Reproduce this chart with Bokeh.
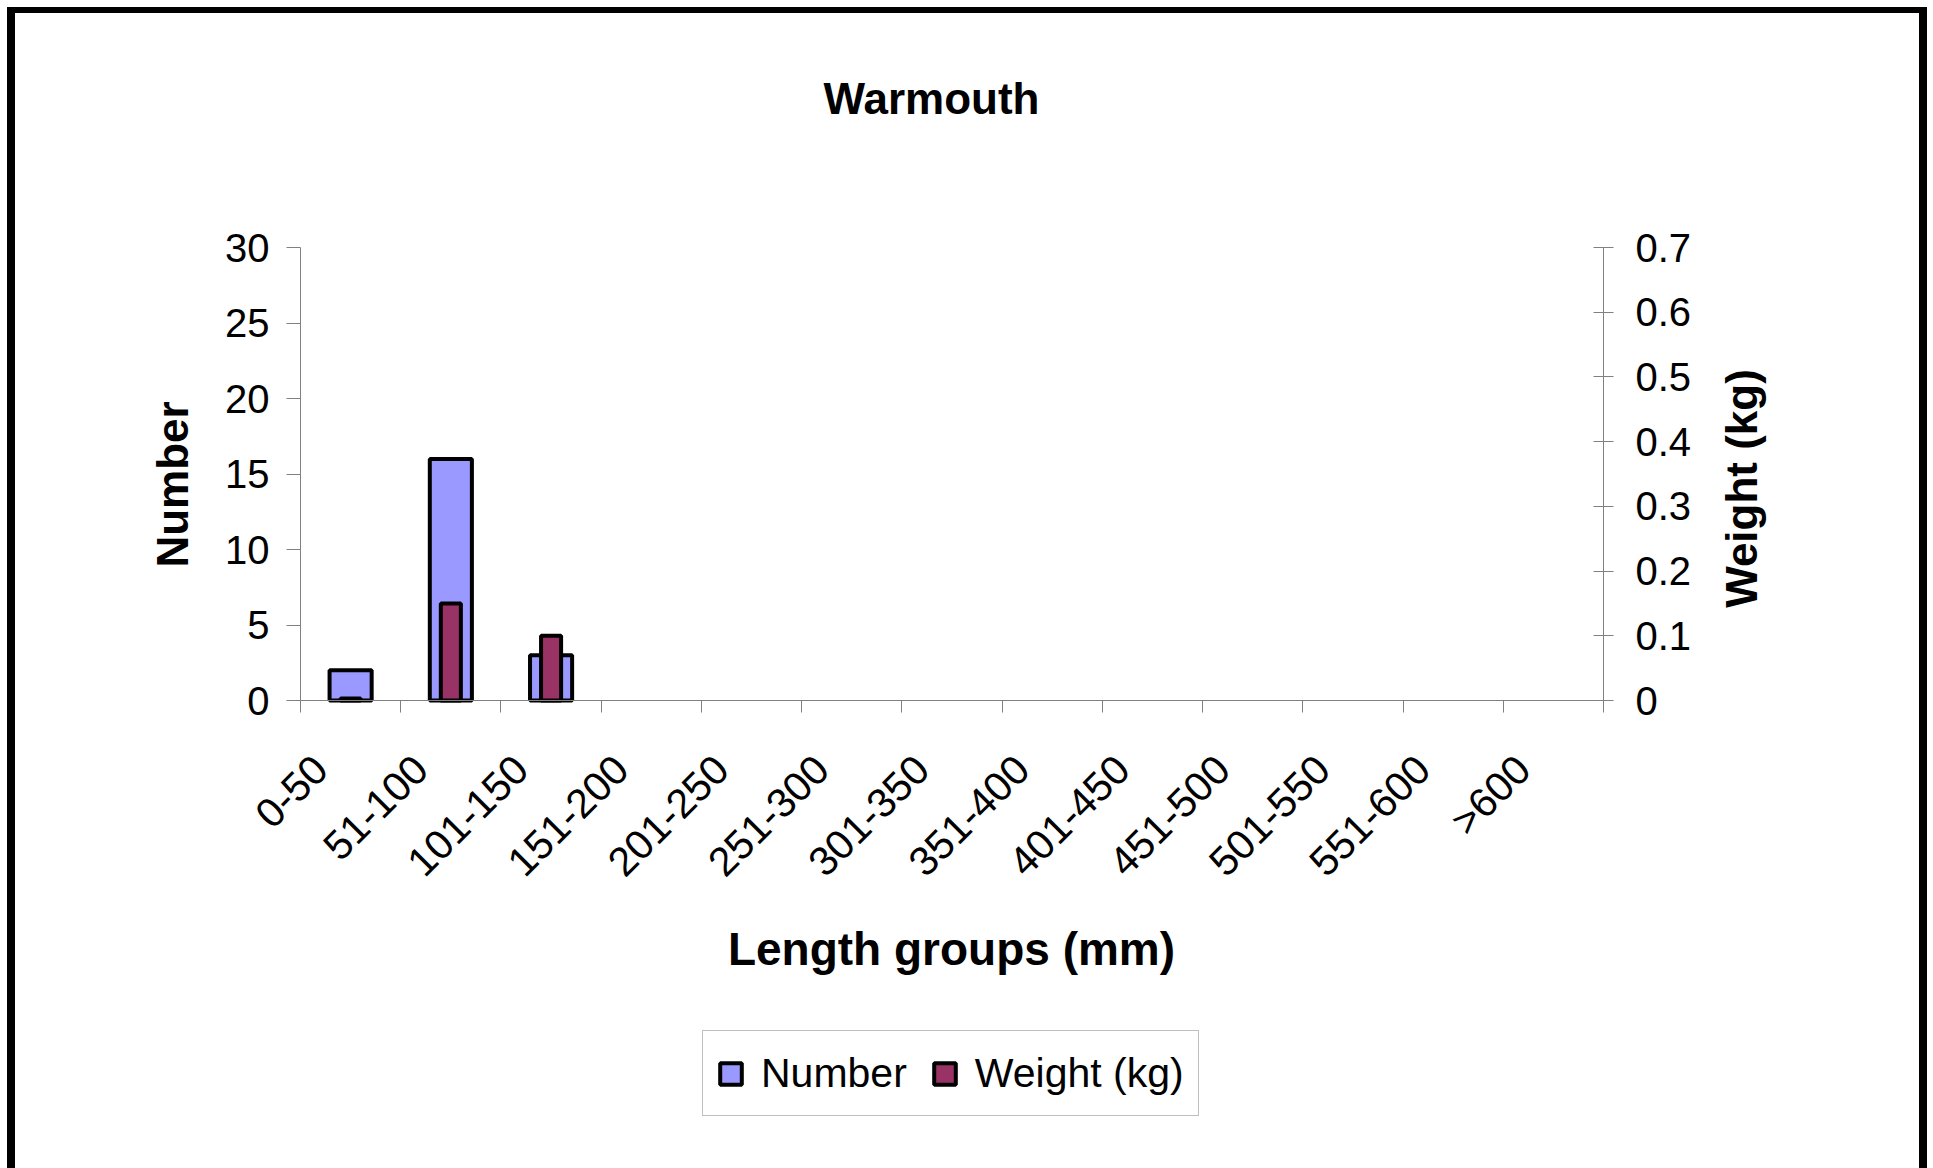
import math
from bokeh.plotting import figure
from bokeh.models import (Range1d, LinearAxis, FixedTicker, ColumnDataSource,
                          Legend, LegendItem, Label)
from bokeh.embed import file_html
from bokeh.resources import INLINE

categories = ["0-50", "51-100", "101-150", "151-200", "201-250", "251-300",
              "301-350", "351-400", "401-450", "451-500", "501-550", "551-600", ">600"]
number = [2, 16, 3, 0, 0, 0, 0, 0, 0, 0, 0, 0, 0]
weight_kg = [0.003, 0.15, 0.1, 0, 0, 0, 0, 0, 0, 0, 0, 0, 0]
number_ticks = [0, 5, 10, 15, 20, 25, 30]
weight_ticks = [0, 0.1, 0.2, 0.3, 0.4, 0.5, 0.6, 0.7]

FONT = "Liberation Sans"
AXIS_GREY = "#808080"

# page layout (pixels)
W, H = 1933, 1168
PLOT_L, PLOT_R, PLOT_T, PLOT_B = 300, 1603, 247, 700

ncat = len(categories)
n_max = number_ticks[-1]
w_max = weight_ticks[-1]
ppx = (PLOT_R - PLOT_L) / ncat
ppy = (PLOT_B - PLOT_T) / n_max
x_start = -PLOT_L / ppx
x_end = ncat + (W - PLOT_R) / ppx
y_start = -(H - PLOT_B) / ppy
y_end = n_max + PLOT_T / ppy


def dx(px):
    return x_start + px / ppx


def dy(py):
    return y_end - py / ppy


centers = [i + 0.5 for i in range(ncat)]
label_pos = [round(i + 0.2, 1) for i in range(ncat)]
boundaries = list(range(ncat + 1))

p = figure(width=W, height=H, output_backend="svg", toolbar_location=None, tools="",
           x_range=Range1d(x_start, x_end), y_range=Range1d(y_start, y_end),
           min_border=0)
p.title.visible = False
p.border_fill_color = None
p.background_fill_color = None
p.outline_line_color = None
p.grid.visible = False
p.styles = {"box-shadow": ("inset 7px 0 0 0 #fff, inset -6px 0 0 0 #fff, inset 0 7px 0 0 #fff, "
                           "inset 15px 0 0 0 #000, inset -14px 0 0 0 #000, inset 0 13px 0 0 #000")}

p.extra_y_ranges = {"w": Range1d(y_start * w_max / n_max, y_end * w_max / n_max)}

nz = [i for i in range(ncat) if number[i] > 0]
wz = [i for i in range(ncat) if weight_kg[i] > 0]
src_n = ColumnDataSource(dict(x=[centers[i] for i in nz], top=[number[i] for i in nz]))
src_w = ColumnDataSource(dict(x=[centers[i] for i in wz], top=[weight_kg[i] for i in wz]))

rn = p.vbar(x="x", top="top", bottom=0, width=0.42, source=src_n,
            fill_color="#9999FF", line_color="#000000", line_width=4)
rw = p.vbar(x="x", top="top", bottom=0, width=0.2, source=src_w, y_range_name="w",
            fill_color="#993366", line_color="#000000", line_width=4)

# x axis
xa = p.xaxis[0]
xa.fixed_location = 0
xa.bounds = (0, ncat)
xa.ticker = FixedTicker(ticks=label_pos, minor_ticks=boundaries)
xa.major_label_overrides = {c: lab for c, lab in zip(label_pos, categories)}
xa.major_label_orientation = math.pi / 4
xa.major_tick_out = 0
xa.major_tick_in = 0
xa.minor_tick_out = 12
xa.minor_tick_in = 0
xa.minor_tick_line_color = AXIS_GREY
xa.axis_line_color = AXIS_GREY
xa.major_label_text_font = FONT
xa.major_label_text_font_size = "41px"
xa.major_label_text_color = "#000000"
xa.major_label_standoff = 50

# left axis
ya = p.yaxis[0]
ya.fixed_location = 0
ya.bounds = (0, n_max)
ya.ticker = FixedTicker(ticks=number_ticks)
ya.minor_tick_line_color = None
ya.major_tick_out = 14
ya.major_tick_in = 0
ya.major_tick_line_color = AXIS_GREY
ya.axis_line_color = AXIS_GREY
ya.major_label_text_font = FONT
ya.major_label_text_font_size = "40px"
ya.major_label_text_color = "#000000"
ya.major_label_standoff = 17

# right axis
ra = LinearAxis(y_range_name="w", ticker=FixedTicker(ticks=weight_ticks))
ra.fixed_location = ncat
ra.bounds = (0, w_max)
ra.major_label_overrides = {0: "0"}
ra.minor_tick_line_color = None
ra.major_tick_out = 10
ra.major_tick_in = 10
ra.major_tick_line_color = AXIS_GREY
ra.axis_line_color = AXIS_GREY
ra.major_label_text_font = FONT
ra.major_label_text_font_size = "40px"
ra.major_label_text_color = "#000000"
ra.major_label_standoff = 22
p.add_layout(ra, "right")


def add_text(text, px, py, size, bold=True, angle=0.0):
    p.add_layout(Label(x=dx(px), y=dy(py), text=text, angle=angle,
                       text_align="center", text_baseline="middle",
                       text_font=FONT, text_font_size=size,
                       text_font_style="bold" if bold else "normal",
                       text_color="#000000"))


add_text("Warmouth", 931, 98, "44px")
add_text("Number", 172, 484, "44px", angle=math.pi / 2)
add_text("Weight (kg)", 1741, 488, "44px", angle=math.pi / 2)
add_text("Length groups (mm)", 951, 948, "46px")

legend = Legend(items=[LegendItem(label="Number", renderers=[rn]),
                       LegendItem(label="Weight (kg)", renderers=[rw])],
                orientation="horizontal", location=(702, H - 1116),
                label_text_font=FONT, label_text_font_size="41px",
                label_text_color="#000000", glyph_width=27, glyph_height=27,
                label_height=56, label_standoff=17, spacing=24, padding=14,
                border_line_color=AXIS_GREY, border_line_width=1,
                background_fill_color="#ffffff", margin=0)
p.add_layout(legend, "center")

open("out.html", "w").write(file_html(p, INLINE))
